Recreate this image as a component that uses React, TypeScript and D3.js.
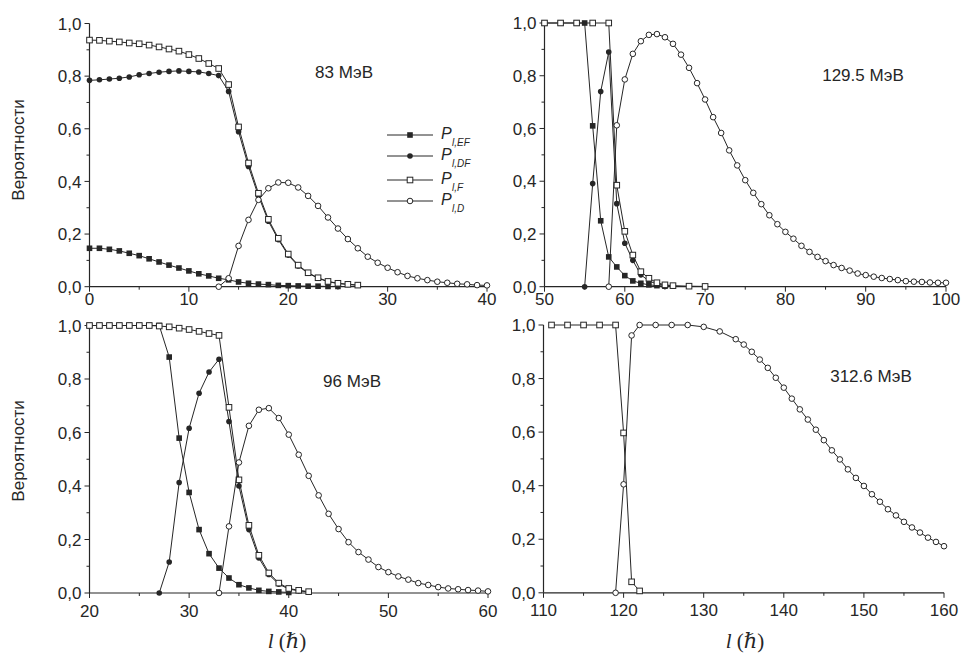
import React from "react";
import * as d3 from "d3";

// ---- E* = 83 MeV (uniform grid in l) ----
const ef83Start = 0;
const pEF83 = [0.146, 0.146, 0.142, 0.136, 0.127, 0.118, 0.106, 0.094, 0.082, 0.071, 0.06, 0.049, 0.041, 0.032, 0.026, 0.018, 0.013, 0.01, 0.008, 0.005, 0.004, 0.003, 0.002, 0.002, 0.001, 0.001];
const df83Start = 0;
const pDF83 = [0.784, 0.786, 0.789, 0.792, 0.797, 0.805, 0.81, 0.815, 0.818, 0.82, 0.818, 0.816, 0.81, 0.802, 0.742, 0.589, 0.457, 0.345, 0.249, 0.179, 0.12, 0.079, 0.051, 0.032, 0.019, 0.012, 0.009, 0.006];
const f83Start = 0;
const pF83 = [0.937, 0.936, 0.933, 0.93, 0.926, 0.923, 0.918, 0.911, 0.903, 0.895, 0.882, 0.867, 0.848, 0.829, 0.768, 0.607, 0.47, 0.355, 0.256, 0.184, 0.124, 0.082, 0.053, 0.034, 0.02, 0.013, 0.009, 0.006];
const d83Start = 13;
const pD83 = [0, 0.032, 0.155, 0.254, 0.33, 0.374, 0.396, 0.395, 0.377, 0.345, 0.307, 0.263, 0.221, 0.181, 0.146, 0.114, 0.091, 0.072, 0.055, 0.041, 0.032, 0.025, 0.019, 0.015, 0.011, 0.009, 0.006, 0.005];

// ---- E* = 96 MeV ----
const ef96Start = 20;
const pEF96 = [1, 1, 1, 1, 1, 1, 1, 1, 0.882, 0.579, 0.376, 0.237, 0.147, 0.093, 0.056, 0.031, 0.019, 0.01, 0.006, 0.004, 0.002];
const df96Start = 27;
const pDF96 = [0, 0.116, 0.413, 0.616, 0.747, 0.826, 0.874, 0.641, 0.4, 0.237, 0.131, 0.069, 0.033, 0.015, 0.008, 0.004];
const f96Start = 20;
const pF96 = [1, 1, 1, 1, 1, 1, 1, 0.998, 0.995, 0.99, 0.985, 0.978, 0.97, 0.963, 0.694, 0.423, 0.253, 0.141, 0.075, 0.037, 0.017, 0.01, 0.005];
const d96Start = 33;
const pD96 = [0, 0.249, 0.488, 0.625, 0.685, 0.691, 0.654, 0.592, 0.517, 0.438, 0.365, 0.296, 0.239, 0.19, 0.153, 0.125, 0.097, 0.078, 0.062, 0.05, 0.037, 0.03, 0.022, 0.017, 0.014, 0.011, 0.009, 0.006];

// ---- E* = 129.5 MeV (non-uniform grid) ----
const lEF129 = [50, 52, 54, 55, 56, 57, 58, 59, 60, 61, 62, 63, 64, 65];
const pEF129 = [1, 1, 1, 1, 0.61, 0.25, 0.113, 0.075, 0.042, 0.022, 0.013, 0.007, 0.004, 0.002];
const lDF129 = [55, 56, 57, 58, 59, 60, 61, 62, 63, 64, 65, 66];
const pDF129 = [0, 0.391, 0.74, 0.89, 0.315, 0.165, 0.1, 0.045, 0.022, 0.01, 0.005, 0.003];
const lF129 = [50, 52, 54, 56, 58, 59, 60, 61, 62, 63, 64, 65, 66, 68, 70];
const pF129 = [1, 1, 1, 1, 1, 0.385, 0.21, 0.12, 0.057, 0.032, 0.015, 0.007, 0.004, 0.002, 0.001];
const d129Start = 58;
const pD129 = [0, 0.612, 0.786, 0.883, 0.931, 0.955, 0.958, 0.946, 0.921, 0.88, 0.83, 0.772, 0.71, 0.643, 0.583, 0.517, 0.46, 0.404, 0.356, 0.313, 0.271, 0.237, 0.208, 0.182, 0.155, 0.132, 0.113, 0.097, 0.082, 0.071, 0.061, 0.05, 0.044, 0.038, 0.033, 0.029, 0.025, 0.021, 0.019, 0.018, 0.016, 0.015, 0.015];

// ---- E* = 312.6 MeV ----
const lF312 = [111, 113, 115, 117, 119, 120, 121, 122];
const pF312 = [1, 1, 1, 1, 1, 0.597, 0.041, 0.007];
const lD312 = [119, 120, 121, 122, 124, 126, 128, 130, 132, 134, 135, 136, 137, 138, 139, 140, 141, 142, 143, 144, 145, 146, 147, 148, 149, 150, 151, 152, 153, 154, 155, 156, 157, 158, 159, 160];
const pD312 = [0, 0.405, 0.961, 1, 1, 1, 1, 0.993, 0.976, 0.947, 0.927, 0.9, 0.871, 0.84, 0.803, 0.766, 0.725, 0.685, 0.647, 0.609, 0.57, 0.532, 0.498, 0.461, 0.429, 0.399, 0.368, 0.34, 0.312, 0.289, 0.265, 0.244, 0.225, 0.206, 0.19, 0.174];

const energyLabels = ["83 МэВ", "129.5 МэВ", "96 МэВ", "312.6 МэВ"];
const yTitle = "Вероятности";
const yTickValues = [0, 0.2, 0.4, 0.6, 0.8, 1.0];
const legendItems = [
  { kind: "fsq", sub: "l,EF" },
  { kind: "fci", sub: "l,DF" },
  { kind: "osq", sub: "l,F" },
  { kind: "oci", sub: "l,D" },
];

type Pt = { l: number; v: number };
type Kind = "fsq" | "fci" | "osq" | "oci";

const seq = (start: number, vals: number[]): Pt[] => vals.map((v, i) => ({ l: start + i, v }));
const pairs = (ls: number[], vals: number[]): Pt[] => ls.map((l, i) => ({ l, v: vals[i] }));

const INK = "#262626";
const SANS = "'Liberation Sans', Arial, Helvetica, sans-serif";
const SERIF = "'Liberation Serif', 'DejaVu Serif', 'Times New Roman', serif";

function Marker({ kind, x, y }: { kind: Kind; x: number; y: number }) {
  const s = 5.6;
  const r = 2.8;
  if (kind === "fsq") return <rect x={x - s / 2} y={y - s / 2} width={s} height={s} fill={INK} />;
  if (kind === "fci") return <circle cx={x} cy={y} r={r} fill={INK} />;
  if (kind === "osq")
    return <rect x={x - s / 2} y={y - s / 2} width={s} height={s} fill="#fff" stroke={INK} strokeWidth={1} />;
  return <circle cx={x} cy={y} r={r} fill="#fff" stroke={INK} strokeWidth={1} />;
}

type Series = { kind: Kind; pts: Pt[] };

type PanelProps = {
  x0: number;
  x1: number;
  yTop: number;
  yBot: number;
  domain: [number, number];
  series: Series[];
  label: string;
  labelX: number;
  labelY: number;
  xLabelDy: number;
};

function Panel(p: PanelProps) {
  const x = d3.scaleLinear().domain(p.domain).range([p.x0, p.x1]);
  const y = d3.scaleLinear().domain([0, 1]).range([p.yBot, p.yTop]);
  const line = d3
    .line<Pt>()
    .x((d) => x(d.l))
    .y((d) => y(d.v));
  const xMajor = d3.range(p.domain[0], p.domain[1] + 0.001, 10);
  const xMinor = d3.range(p.domain[0] + 5, p.domain[1], 10);
  const yMinor = [0.1, 0.3, 0.5, 0.7, 0.9];
  const fmt = (v: number) => d3.format(".1f")(v).replace(".", ",");
  return (
    <g>
      {/* axes */}
      <line x1={p.x0} y1={p.yTop} x2={p.x0} y2={p.yBot} stroke={INK} strokeWidth={1.2} />
      <line x1={p.x0} y1={p.yBot} x2={p.x1} y2={p.yBot} stroke={INK} strokeWidth={1.2} />
      {yTickValues.map((v) => (
        <g key={"yt" + v}>
          <line x1={p.x0 - 5} x2={p.x0} y1={y(v)} y2={y(v)} stroke={INK} strokeWidth={1} />
          <text x={p.x0 - 8} y={y(v)} dy="0.36em" textAnchor="end" fontFamily={SANS} fontSize={17} fill={INK}>
            {fmt(v)}
          </text>
        </g>
      ))}
      {yMinor.map((v) => (
        <line key={"ym" + v} x1={p.x0 - 3} x2={p.x0} y1={y(v)} y2={y(v)} stroke={INK} strokeWidth={1} />
      ))}
      {xMajor.map((v) => (
        <g key={"xt" + v}>
          <line x1={x(v)} x2={x(v)} y1={p.yBot} y2={p.yBot + 5} stroke={INK} strokeWidth={1} />
          <text x={x(v)} y={p.yBot + p.xLabelDy} textAnchor="middle" fontFamily={SANS} fontSize={17} fill={INK}>
            {v}
          </text>
        </g>
      ))}
      {xMinor.map((v) => (
        <line key={"xm" + v} x1={x(v)} x2={x(v)} y1={p.yBot} y2={p.yBot + 3} stroke={INK} strokeWidth={1} />
      ))}
      {/* curves */}
      {p.series.map((s, i) => (
        <g key={"s" + i}>
          <path d={line(s.pts) || ""} fill="none" stroke={INK} strokeWidth={1} />
          {s.pts.map((d, j) => (
            <Marker key={j} kind={s.kind} x={x(d.l)} y={y(d.v)} />
          ))}
        </g>
      ))}
      <text x={p.labelX} y={p.labelY} textAnchor="middle" fontFamily={SANS} fontSize={17} fill={INK}>
        {p.label}
      </text>
    </g>
  );
}

function Legend({ x, rows }: { x: number; rows: number[] }) {
  return (
    <g>
      {legendItems.map((it, i) => (
        <g key={it.sub}>
          <line x1={x} x2={x + 46} y1={rows[i]} y2={rows[i]} stroke={INK} strokeWidth={1} />
          <Marker kind={it.kind as Kind} x={x + 23} y={rows[i]} />
          <text x={x + 54} y={rows[i] + 4} fontFamily={SANS} fontStyle="italic" fontSize={16} fill={INK}>
            P
          </text>
          <text x={x + 65} y={rows[i] + 11} fontFamily={SANS} fontStyle="italic" fontSize={10} fill={INK}>
            {it.sub}
          </text>
        </g>
      ))}
    </g>
  );
}

function XTitle({ cx, y }: { cx: number; y: number }) {
  return (
    <text x={cx} y={y} textAnchor="middle" fontFamily={SERIF} fontSize={21} fill={INK}>
      <tspan fontStyle="italic">l</tspan>
      <tspan> (</tspan>
      <tspan fontStyle="italic">ℏ</tspan>
      <tspan>)</tspan>
    </text>
  );
}

export default function App() {
  const s83: Series[] = [
    { kind: "fsq", pts: seq(ef83Start, pEF83) },
    { kind: "fci", pts: seq(df83Start, pDF83) },
    { kind: "osq", pts: seq(f83Start, pF83) },
    { kind: "oci", pts: seq(d83Start, pD83) },
  ];
  const s96: Series[] = [
    { kind: "fsq", pts: seq(ef96Start, pEF96) },
    { kind: "fci", pts: seq(df96Start, pDF96) },
    { kind: "osq", pts: seq(f96Start, pF96) },
    { kind: "oci", pts: seq(d96Start, pD96) },
  ];
  const s129: Series[] = [
    { kind: "fsq", pts: pairs(lEF129, pEF129) },
    { kind: "fci", pts: pairs(lDF129, pDF129) },
    { kind: "osq", pts: pairs(lF129, pF129) },
    { kind: "oci", pts: seq(d129Start, pD129) },
  ];
  const s312: Series[] = [
    { kind: "osq", pts: pairs(lF312, pF312) },
    { kind: "oci", pts: pairs(lD312, pD312) },
  ];

  return (
    <svg
      width={962}
      height={653}
      viewBox="0 0 962 653"
      style={{ position: "absolute", left: 0, top: 0, background: "#fff" }}
    >
      <rect x={0} y={0} width={962} height={653} fill="#fff" />
      <Panel x0={89.5} x1={487} yTop={23.5} yBot={286.7} domain={[0, 40]} series={s83}
        label={energyLabels[0]} labelX={344} labelY={78} xLabelDy={18.5} />
      <Panel x0={544.5} x1={946} yTop={23} yBot={286.7} domain={[50, 100]} series={s129}
        label={energyLabels[1]} labelX={863} labelY={81} xLabelDy={18.5} />
      <Panel x0={89.5} x1={488} yTop={325.5} yBot={593} domain={[20, 60]} series={s96}
        label={energyLabels[2]} labelX={352} labelY={387} xLabelDy={23.5} />
      <Panel x0={543.5} x1={944} yTop={325} yBot={592.8} domain={[110, 160]} series={s312}
        label={energyLabels[3]} labelX={871} labelY={382} xLabelDy={23.5} />
      <Legend x={387} rows={[135, 156, 180, 201]} />
      <text transform="translate(24,150) rotate(-90)" textAnchor="middle" fontFamily={SANS} fontSize={17} fill={INK}>
        {yTitle}
      </text>
      <text transform="translate(24,451) rotate(-90)" textAnchor="middle" fontFamily={SANS} fontSize={17} fill={INK}>
        {yTitle}
      </text>
      <XTitle cx={287} y={648} />
      <XTitle cx={745} y={648} />
    </svg>
  );
}
